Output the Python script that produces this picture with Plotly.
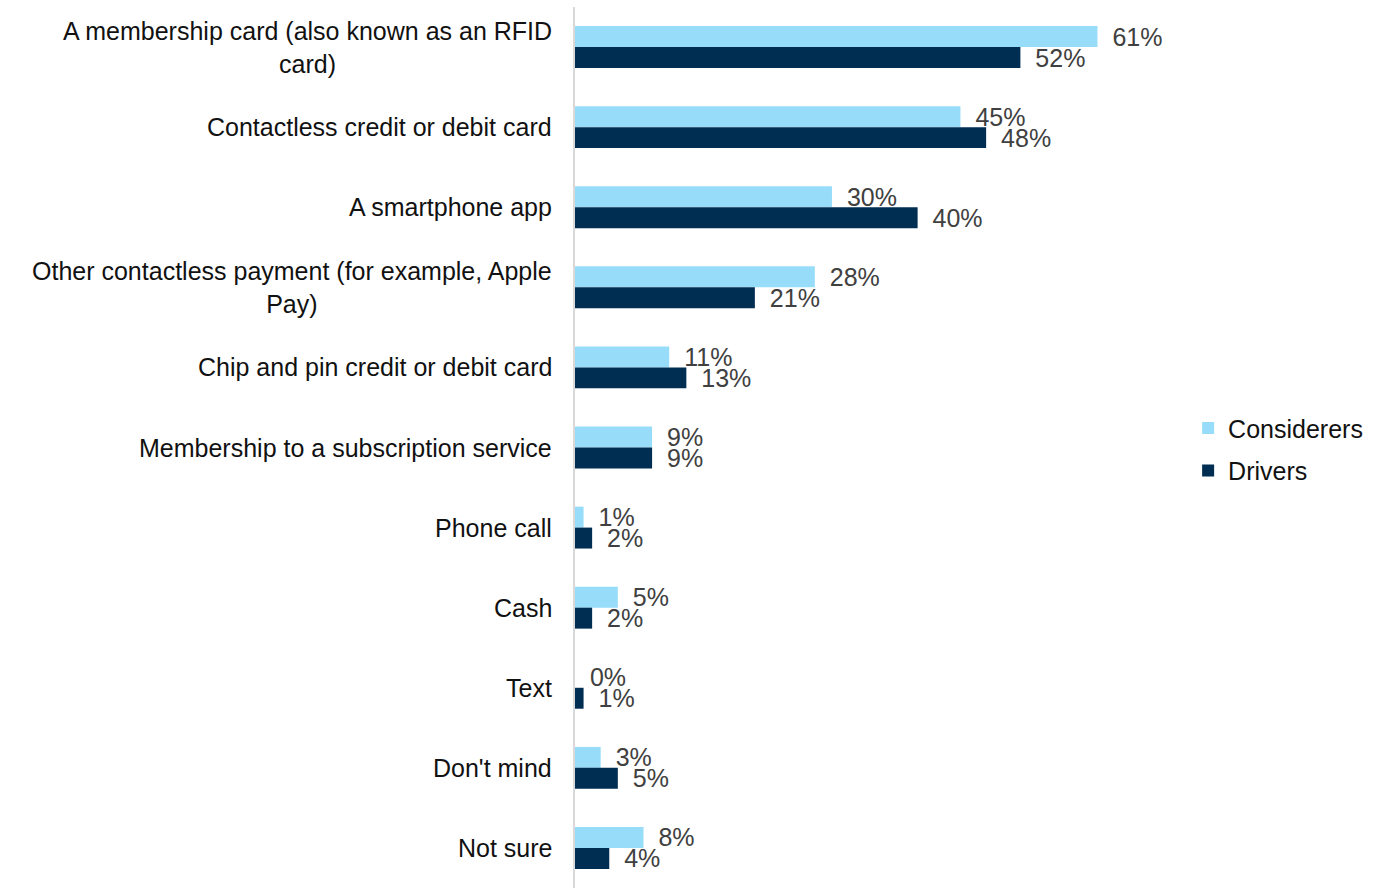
import plotly.graph_objects as go

categories = [
    "A membership card (also known as an RFID<br>card)",
    "Contactless credit or debit card",
    "A smartphone app",
    "Other contactless payment (for example, Apple<br>Pay)",
    "Chip and pin credit or debit card",
    "Membership to a subscription service",
    "Phone call",
    "Cash",
    "Text",
    "Don't mind",
    "Not sure",
]
considerers = [61, 45, 30, 28, 11, 9, 1, 5, 0, 3, 8]
drivers = [52, 48, 40, 21, 13, 9, 2, 2, 1, 5, 4]

LIGHT = "#97DDFA"
NAVY = "#002D52"
FONT = "Liberation Sans, Arial, sans-serif"
LABEL_GREY = "#404040"
SIZE = 25

fig = go.Figure()
for name, vals, color in [("Considerers", considerers, LIGHT), ("Drivers", drivers, NAVY)]:
    fig.add_trace(go.Bar(
        name=name,
        legendgroup=name,
        y=categories,
        x=vals,
        orientation="h",
        marker=dict(color=color, line=dict(width=0)),
        text=[f"\u00a0\u2009{v}%" for v in vals],
        textposition="outside",
        constraintext="none",
        cliponaxis=False,
        textfont=dict(family=FONT, size=SIZE, color=LABEL_GREY),
        hoverinfo="skip",
    ))

# Category labels, centred line by line and right-aligned against the axis
for cat in categories:
    fig.add_annotation(
        x=0, y=cat, xref="x", yref="y",
        text=cat, showarrow=False,
        xanchor="right", yanchor="middle", align="center",
        xshift=-21,
        font=dict(family=FONT, size=SIZE, color="#111111"),
    )

fig.update_layout(
    width=1386, height=888,
    margin=dict(l=575, r=214, t=7, b=0),
    paper_bgcolor="white", plot_bgcolor="white",
    barmode="group", bargap=0.477, bargroupgap=0,
    showlegend=True,
    legend=dict(
        x=1.027, xanchor="left", y=0.498, yanchor="middle",
        traceorder="grouped",
        font=dict(family=FONT, size=SIZE, color="#111111"),
        itemwidth=30,
        tracegroupgap=7,
    ),
    xaxis=dict(range=[0, 69.7], visible=False, showgrid=False, zeroline=False),
    yaxis=dict(
        autorange="reversed",
        showticklabels=False, ticks="",
        showline=True, linecolor="#D9D9D9", linewidth=2,
        showgrid=False, zeroline=False,
    ),
    font=dict(family=FONT),
)

fig.write_html("out.html")
